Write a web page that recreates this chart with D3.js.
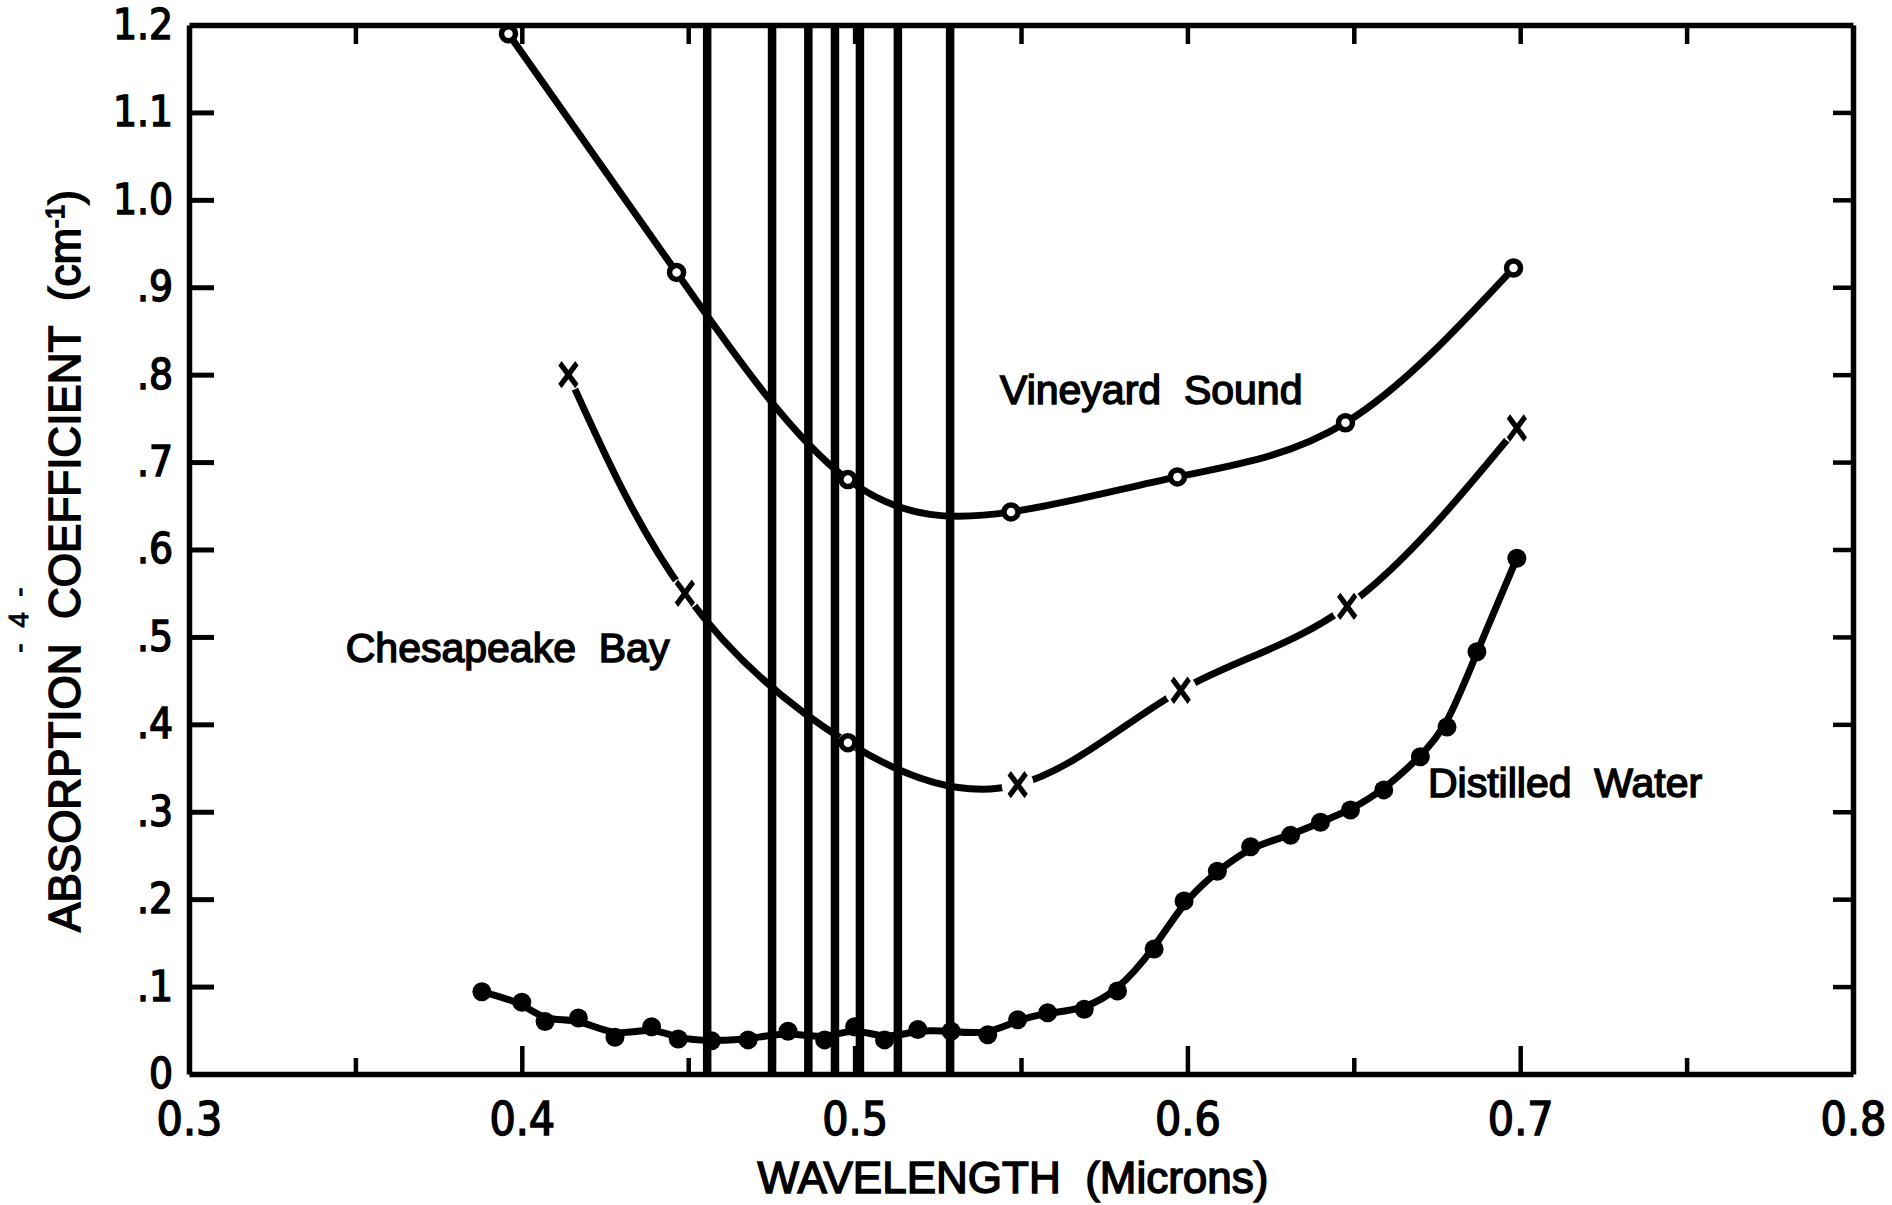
<!DOCTYPE html>
<html>
<head>
<meta charset="utf-8">
<script src="https://cdn.jsdelivr.net/npm/d3@7"></script>
<style>
  body { margin: 0; background: #fff; }
  svg { display: block; background: #fff; }
</style>
</head>
<body>
<script>
const W = 1892, H = 1205

// wavelength (microns) vs absorption coefficient (cm^-1)
const vineyardX = [0.396, 0.4465, 0.498, 0.547, 0.597, 0.6475, 0.698]
const vineyardY = [1.19, 0.917, 0.680, 0.643, 0.683, 0.745, 0.922]

const chesapeakeX = [0.414, 0.449, 0.498, 0.549, 0.598, 0.648, 0.699]
const chesapeakeY = [0.800, 0.550, 0.379, 0.331, 0.439, 0.535, 0.739]
const chesapeakeMark = ['x', 'x', 'o', 'x', 'x', 'x', 'x']

const waterX = [0.388, 0.400, 0.407, 0.417, 0.428, 0.439, 0.447, 0.457, 0.468, 0.480, 0.491,
  0.500, 0.509, 0.519, 0.529, 0.540, 0.549, 0.558, 0.569, 0.579, 0.590, 0.599,
  0.609, 0.619, 0.631, 0.640, 0.649, 0.659, 0.670, 0.678, 0.687, 0.699]
const waterY = [0.094, 0.082, 0.060, 0.064, 0.042, 0.054, 0.040, 0.038, 0.039, 0.049, 0.039,
  0.054, 0.039, 0.051, 0.049, 0.045, 0.062, 0.070, 0.074, 0.095, 0.143, 0.198,
  0.232, 0.260, 0.273, 0.288, 0.302, 0.325, 0.363, 0.397, 0.483, 0.590]

// vertical lines (laser wavelengths)
const laserLines = [0.4557, 0.4752, 0.4861, 0.4941, 0.5016, 0.5130, 0.5287]

const xTicks = [0.3, 0.35, 0.4, 0.45, 0.5, 0.55, 0.6, 0.65, 0.7, 0.75, 0.8]
const xTickLabels = ['0.3', '0.4', '0.5', '0.6', '0.7', '0.8']
const yTicks = [0, 0.1, 0.2, 0.3, 0.4, 0.5, 0.6, 0.7, 0.8, 0.9, 1.0, 1.1, 1.2]
const yTickLabels = ['0', '.1', '.2', '.3', '.4', '.5', '.6', '.7', '.8', '.9', '1.0', '1.1', '1.2']

const curveLabels = [
  { text: 'Vineyard\u00a0\u00a0Sound', x: 0.5437, y: 0.767 },
  { text: 'Chesapeake\u00a0\u00a0Bay', x: 0.3471, y: 0.471 },
  { text: 'Distilled\u00a0\u00a0Water', x: 0.6723, y: 0.317 }
]

const FONT = '"Liberation Sans", Arial, Helvetica, sans-serif'
const NARROW = '"Liberation Sans Narrow", "DejaVu Sans Condensed", "Liberation Sans", sans-serif'

const x = d3.scaleLinear().domain([0.3, 0.8]).range([189, 1853])
const y = d3.scaleLinear().domain([0, 1.2]).range([1074, 25])

const svg = d3.select('body').append('svg')
  .attr('width', W)
  .attr('height', H)

// ---- axes (frame with inward ticks)
const gx = svg.append('g')
  .attr('transform', `translate(0,${y(0)})`)
  .call(d3.axisBottom(x).tickValues(xTicks).tickSizeOuter(0).tickSizeInner(0).tickPadding(28)
    .tickFormat((d, i) => i % 2 ? '' : xTickLabels[i / 2]))
gx.selectAll('.tick line')
  .attr('y2', (d, i) => (i === 0 || i === xTicks.length - 1) ? 0 : (i % 2 ? -16 : -28))
  .attr('stroke-width', 4.5)
gx.selectAll('.tick text')
  .attr('font-family', NARROW).attr('font-size', 46)
  .attr('stroke', '#000').attr('stroke-width', 1.4)

const gTop = svg.append('g')
  .attr('transform', `translate(0,${y(1.2)})`)
  .call(d3.axisTop(x).tickValues(xTicks.slice(1, -1)).tickSizeOuter(0).tickSizeInner(-19).tickFormat(''))
gTop.selectAll('.tick line').attr('stroke-width', 4.5)

const gy = svg.append('g')
  .attr('transform', `translate(${x(0.3)},0)`)
  .call(d3.axisLeft(y).tickValues(yTicks).tickSizeOuter(0).tickSizeInner(-25).tickPadding(16)
    .tickFormat((d, i) => yTickLabels[i]))
gy.selectAll('.tick line')
  .attr('x2', (d, i) => (i === 0 || i === yTicks.length - 1) ? 0 : 25)
  .attr('stroke-width', 5)
gy.selectAll('.tick text')
  .attr('font-family', NARROW).attr('font-size', 42)
  .attr('stroke', '#000').attr('stroke-width', 1.4)

const gRight = svg.append('g')
  .attr('transform', `translate(${x(0.8)},0)`)
  .call(d3.axisRight(y).tickValues(yTicks.slice(1, -1)).tickSizeOuter(0).tickSizeInner(-20).tickFormat(''))
gRight.selectAll('.tick line').attr('stroke-width', 4.5)

svg.selectAll('.domain').attr('stroke-width', 5.5)

// ---- curves
const line = d3.line().x(d => x(d[0])).y(d => y(d[1]))
const vineyard = d3.zip(vineyardX, vineyardY)
const chesapeake = d3.zip(chesapeakeX, chesapeakeY, chesapeakeMark)
const water = d3.zip(waterX, waterY)

svg.append('path').datum(vineyard)
  .attr('d', line.curve(d3.curveNatural))
  .attr('fill', 'none').attr('stroke', '#000').attr('stroke-width', 7)

svg.append('path').datum(chesapeake)
  .attr('d', line.curve(d3.curveNatural))
  .attr('fill', 'none').attr('stroke', '#000').attr('stroke-width', 7)

svg.append('path').datum(water)
  .attr('d', line.curve(d3.curveBasis))
  .attr('fill', 'none').attr('stroke', '#000').attr('stroke-width', 7)

// white gaps where the Chesapeake line breaks at its markers
svg.append('g').selectAll('circle').data(chesapeake).join('circle')
  .attr('cx', d => x(d[0])).attr('cy', d => y(d[1]))
  .attr('r', d => d[2] === 'x' ? 16 : 10)
  .attr('fill', '#fff')

// ---- laser lines
svg.append('g').selectAll('line').data(laserLines).join('line')
  .attr('x1', d => x(d)).attr('x2', d => x(d))
  .attr('y1', y(1.2)).attr('y2', y(0))
  .attr('stroke', '#000').attr('stroke-width', 8.5)

// ---- markers
svg.append('g').selectAll('circle').data(vineyard).join('circle')
  .attr('cx', d => x(d[0])).attr('cy', d => y(d[1]))
  .attr('r', 7)
  .attr('fill', '#fff').attr('stroke', '#000').attr('stroke-width', 5.5)

svg.append('g').selectAll('circle').data(chesapeake.filter(d => d[2] === 'o')).join('circle')
  .attr('cx', d => x(d[0])).attr('cy', d => y(d[1]))
  .attr('r', 7)
  .attr('fill', '#fff').attr('stroke', '#000').attr('stroke-width', 5.5)

const cross = d3.symbol(d3.symbolX).size(260)
svg.append('g').selectAll('path').data(chesapeake.filter(d => d[2] === 'x')).join('path')
  .attr('d', cross)
  .attr('transform', d => `translate(${x(d[0])},${y(d[1])}) scale(0.85,1.15)`)
  .attr('fill', 'none').attr('stroke', '#000').attr('stroke-width', 5.5)

svg.append('g').selectAll('circle').data(water).join('circle')
  .attr('cx', d => x(d[0])).attr('cy', d => y(d[1]))
  .attr('r', 9.5)
  .attr('fill', '#000')

// ---- text
svg.append('g').selectAll('text').data(curveLabels).join('text')
  .attr('x', d => x(d.x)).attr('y', d => y(d.y))
  .attr('font-family', FONT).attr('font-size', 41)
  .attr('stroke', '#000').attr('stroke-width', 1.5)
  .text(d => d.text)

svg.append('text')
  .attr('x', (x(0.3) + x(0.8)) / 2 - 8).attr('y', 1193)
  .attr('text-anchor', 'middle')
  .attr('font-family', FONT).attr('font-size', 44)
  .attr('stroke', '#000').attr('stroke-width', 1.5)
  .text('WAVELENGTH\u00a0\u00a0(Microns)')

const yLabel = svg.append('text')
  .attr('transform', 'translate(80,561) rotate(-90)')
  .attr('text-anchor', 'middle')
  .attr('font-family', FONT).attr('font-size', 44)
  .attr('stroke', '#000').attr('stroke-width', 1.6)
yLabel.append('tspan').text('ABSORPTION\u00a0\u00a0COEFFICIENT\u00a0\u00a0(cm')
yLabel.append('tspan').attr('dy', -16).attr('font-size', 26).text('-1')
yLabel.append('tspan').attr('dy', 16).text(')')

svg.append('text')
  .attr('transform', 'translate(28,620) rotate(-90)')
  .attr('text-anchor', 'middle')
  .attr('font-family', FONT).attr('font-size', 28)
  .attr('stroke', '#000').attr('stroke-width', 1)
  .text('-\u00a0\u00a04\u00a0\u00a0-')
</script>
</body>
</html>
